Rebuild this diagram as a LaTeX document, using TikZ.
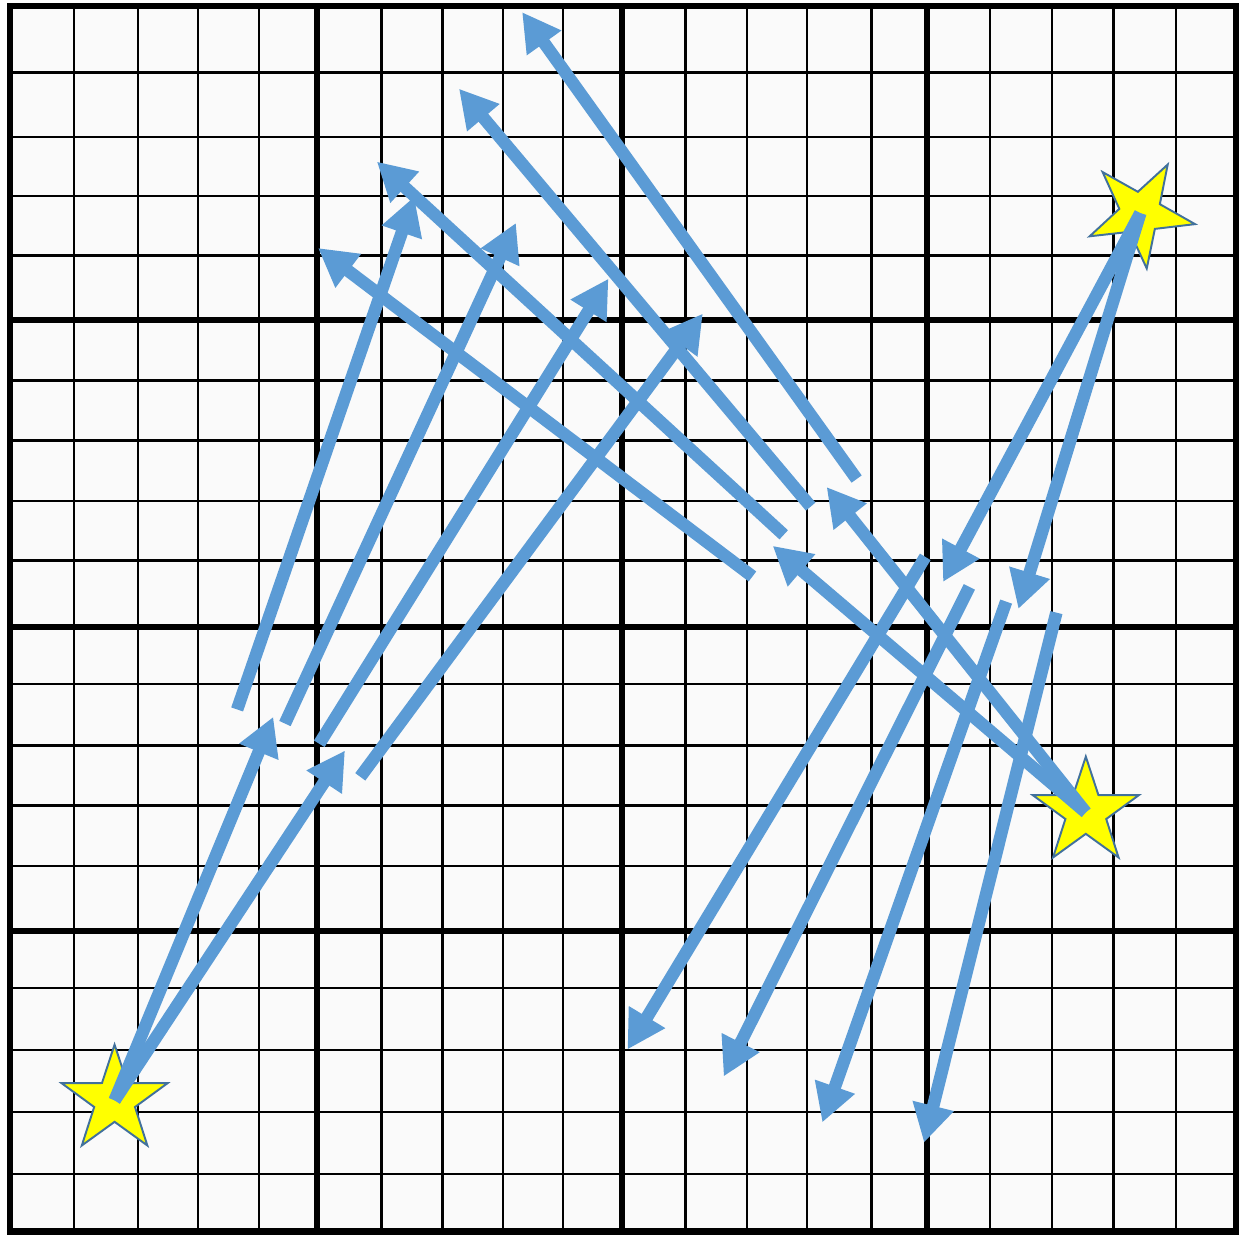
\documentclass[tikz,border=0pt]{standalone}
\usepackage{xcolor}
\definecolor{moveblue}{HTML}{5B9BD5}
\definecolor{staredge}{HTML}{41719C}
\definecolor{staryellow}{HTML}{FFFF00}
\definecolor{paper}{HTML}{FAFAFA}
\usetikzlibrary{shapes.geometric,arrows.meta}

\begin{document}
\begin{tikzpicture}[
    move/.style={-{Triangle[length=17.6pt,width=18.5pt]},
                 draw=moveblue, line width=5.8pt},
    startmark/.style={star, star points=5, star point ratio=2.6,
                 minimum size=1.82cm, inner sep=0pt,
                 draw=staredge, line width=0.9pt, fill=staryellow},
    thinrule/.style={line width=1.15pt},
    thickrule/.style={line width=2.8pt}]

  \useasboundingbox (-0.17,-0.065) rectangle (20.05,20.098);

  %% Squared paper (the ruling is slightly uneven)
  \fill[paper] (0,0) rectangle (20,20);
  \foreach \gx in {1.035,2.086,3.064,4.059,6.055,7.050,8.036,9.022,
                   11.019,12.021,12.999,14.050,15.990,17.001,18.003,19.022}
    \draw[thinrule] (\gx,0) -- (\gx,20);
  \foreach \gy in {0.938,1.954,2.958,3.972,5.966,6.956,7.933,8.936,
                   10.954,11.920,12.910,13.888,15.931,16.895,17.860,18.915}
    \draw[thinrule] (0,\gy) -- (20,\gy);
  \foreach \gx in {4.996,9.984,14.955}
    \draw[thickrule] (\gx,0) -- (\gx,20);
  \foreach \gy in {4.910,9.861,14.878}
    \draw[thickrule] (0,\gy) -- (20,\gy);
  \draw[thickrule] (0,0) rectangle (20,20);

  %% Stars
  \node[startmark] (starL) at (1.70,2.14) {};
  \node[startmark, shape border rotate=-29.4] (starT) at (18.44,16.62) {};
  \node[startmark] (starR) at (17.55,6.84) {};

  %% Ends of the moves
  \coordinate (leftA) at (4.29,8.40);
  \coordinate (leftB) at (5.46,7.85);

  \coordinate (rise1) at (3.70,8.52);  \coordinate (riseTip1) at (6.59,16.89);
  \coordinate (rise2) at (4.48,8.29);  \coordinate (riseTip2) at (8.25,16.46);
  \coordinate (rise3) at (5.04,7.96);  \coordinate (riseTip3) at (9.76,15.55);
  \coordinate (rise4) at (5.71,7.42);  \coordinate (riseTip4) at (11.30,14.98);

  \coordinate (topA) at (15.22,10.60);
  \coordinate (topB) at (16.45,10.16);

  \coordinate (fall1) at (14.93,11.01); \coordinate (fallTip1) at (10.07,2.97);
  \coordinate (fall2) at (15.65,10.52); \coordinate (fallTip2) at (11.64,2.53);
  \coordinate (fall3) at (16.25,10.28); \coordinate (fallTip3) at (13.25,1.78);
  \coordinate (fall4) at (17.07,10.10); \coordinate (fallTip4) at (14.91,1.45);

  \coordinate (rightA) at (12.44,11.19);
  \coordinate (rightB) at (13.32,12.15);

  \coordinate (back1) at (12.11,10.69); \coordinate (backTip1) at (5.02,16.05);
  \coordinate (back2) at (12.62,11.37); \coordinate (backTip2) at (5.98,17.46);
  \coordinate (back3) at (13.06,11.83); \coordinate (backTip3) at (7.32,18.65);
  \coordinate (back4) at (13.81,12.28); \coordinate (backTip4) at (8.35,19.90);

  %% Moves out of the stars
  \draw[move] (starL.center) -- (leftA);
  \draw[move] (starL.center) -- (leftB);
  \draw[move] (starT.center) -- (topA);
  \draw[move] (starT.center) -- (topB);
  \draw[move] (starR.center) -- (rightA);
  \draw[move] (starR.center) -- (rightB);

  %% Free moves
  \draw[move] (rise1) -- (riseTip1);
  \draw[move] (rise2) -- (riseTip2);
  \draw[move] (rise3) -- (riseTip3);
  \draw[move] (rise4) -- (riseTip4);

  \draw[move] (fall1) -- (fallTip1);
  \draw[move] (fall2) -- (fallTip2);
  \draw[move] (fall3) -- (fallTip3);
  \draw[move] (fall4) -- (fallTip4);

  \draw[move] (back1) -- (backTip1);
  \draw[move] (back2) -- (backTip2);
  \draw[move] (back3) -- (backTip3);
  \draw[move] (back4) -- (backTip4);

\end{tikzpicture}
\end{document}
